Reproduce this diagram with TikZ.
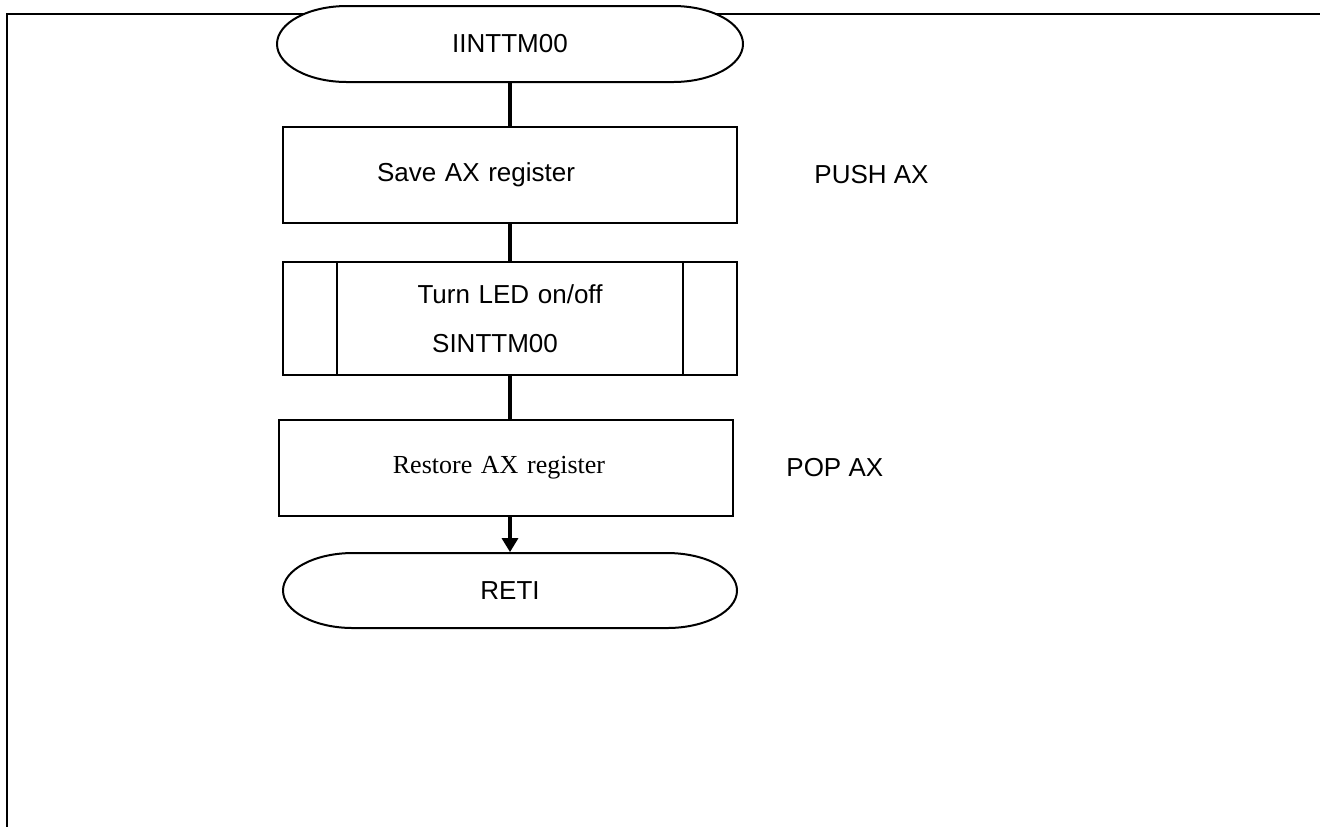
\documentclass[tikz,border=0pt]{standalone}
\usepackage{fontspec}
\setmainfont{Liberation Sans}
\newfontfamily\timesface{Liberation Serif}
\usetikzlibrary{arrows.meta}
\tikzstyle{procbox} = [draw, line width=1pt, inner xsep=0pt, inner ysep=0pt,
    text width=227pt, minimum height=48pt, align=center,
    font=\fontsize{13}{15.6}\selectfont]
\tikzstyle{termnode} = [inner sep=0pt, minimum height=38pt, minimum width=227pt,
    font=\fontsize{13}{15.6}\selectfont]
\tikzstyle{note} = [inner sep=0pt, anchor=west, font=\fontsize{13}{15.6}\selectfont]
\tikzstyle{flowline} = [line width=1.6pt]
\newcommand{\termoutline}[3]{
    \draw[line width=1pt, fill=white, shift={#1}] ({-#2+35pt},#3) -- ({#2-35pt},#3)
        arc[start angle=90, end angle=-90, x radius=35pt, y radius=#3]
        -- ({-#2+35pt},-#3)
        arc[start angle=270, end angle=90, x radius=35pt, y radius=#3] -- cycle;
}
\newcommand{\suboutline}[1]{
    \draw[line width=1pt] ([xshift=27.5pt]#1.north west) -- ([xshift=27.5pt]#1.south west);
    \draw[line width=1pt] ([xshift=-27.5pt]#1.north east) -- ([xshift=-27.5pt]#1.south east);
}
\begin{document}
\begin{tikzpicture}[x=0.5pt, y=-0.5pt]
	\useasboundingbox (0,0) rectangle (1320,827);
	\draw[line width=1.4pt] (1320,14) -- (7,14) -- (7,827);
	
	\termoutline{(510,44)}{116.5pt}{19pt};
	\node(start) [termnode, minimum width=233pt] at (510,44) {IINTTM00};
	
	\node(save) [procbox, align=left] at (510,175) {\hspace*{47pt}Save AX register};
	\node(push) [note] at ([xshift=38pt]save.east) {PUSH AX};
	
	\node(led) [procbox, minimum height=56.5pt] at (510,318.5) {Turn LED on/off\\[8.9pt]\hspace*{-15pt}SINTTM00};
	\suboutline{led};
	
	\node(restore) [procbox] at (506,468) {\timesface\hspace*{-7pt}Restore AX register};
	\node(pop) [note] at ([xshift=26pt]restore.east) {POP AX};
	
	\termoutline{(510,590.5)}{113.5pt}{18.75pt};
	\node(end) [termnode] at (510,590.5) {RETI};
	
	\draw[flowline] (start) -- (save);
	\draw[flowline] (save) -- (led);
	\draw[flowline] (led.south -| start) -- (start |- restore.north);
	\draw[flowline, -{Triangle[width=8pt, length=7pt]}] (restore.south -| end) -- (end);
\end{tikzpicture}
\end{document}
